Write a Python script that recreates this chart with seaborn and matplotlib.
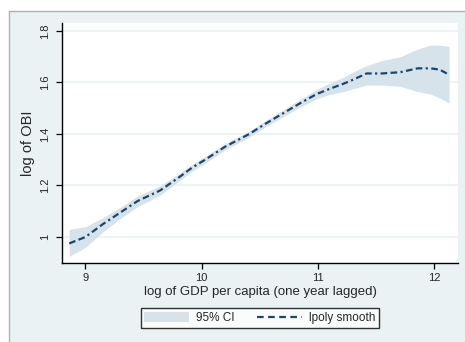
import matplotlib
matplotlib.use("Agg")
import matplotlib.pyplot as plt
import seaborn as sns
import pandas as pd
from matplotlib.patches import Patch, Rectangle
from matplotlib.lines import Line2D

gdp = [8.86, 9.0, 9.15, 9.3, 9.45, 9.64, 9.8, 9.92, 10.03, 10.2, 10.41, 10.55,
       10.7, 10.85, 10.99, 11.1, 11.22, 11.3, 11.42, 11.55, 11.71, 11.86, 11.97,
       12.05, 12.13]
obi = [0.975, 1.0, 1.05, 1.095, 1.14, 1.18, 1.23, 1.27, 1.30, 1.35, 1.40, 1.44,
       1.48, 1.52, 1.555, 1.575, 1.595, 1.61, 1.635, 1.635, 1.64, 1.655, 1.655,
       1.65, 1.63]
ci_hi = [1.030, 1.040, 1.075, 1.115, 1.160, 1.198, 1.245, 1.283, 1.313, 1.362,
         1.412, 1.452, 1.493, 1.535, 1.573, 1.597, 1.620, 1.640, 1.665, 1.685,
         1.700, 1.730, 1.745, 1.745, 1.740]
ci_lo = [0.925, 0.960, 1.020, 1.072, 1.118, 1.162, 1.215, 1.257, 1.287, 1.338,
         1.388, 1.428, 1.467, 1.505, 1.537, 1.553, 1.565, 1.575, 1.590, 1.590,
         1.585, 1.565, 1.555, 1.540, 1.520]
xticks = [9, 10, 11, 12]
yticks = [1.0, 1.2, 1.4, 1.6, 1.8]
ytick_labels = ["1", "1.2", "1.4", "1.6", "1.8"]

sns.set_style("white")
plt.rcParams['font.family'] = ['Liberation Sans', 'DejaVu Sans']

BG = "#EAF2F3"
NAVY = "#1A476F"
CIFILL = "#D6E3EA"
DASH = (3, 1.5, 3, 1.5, 1, 1.5)

fig = plt.figure(figsize=(4.65, 3.42), dpi=100)
fig.patch.set_facecolor("white")
W, H = 465, 342
fig.patches.append(Rectangle((9 / W, 0), 1 - 9 / W, 1 - 11 / H, transform=fig.transFigure,
                             facecolor=BG, edgecolor="none", zorder=-10))
fig.add_artist(Line2D([9 / W, 1], [1 - 11 / H, 1 - 11 / H], transform=fig.transFigure,
                      color="#B0B0B0", lw=1))
fig.add_artist(Line2D([9 / W, 9 / W], [0, 1 - 11 / H], transform=fig.transFigure,
                      color="#B0B0B0", lw=1))

ax = fig.add_axes([62 / W, 1 - 263 / H, (458 - 62) / W, (263 - 23) / H])
ax.set_facecolor("white")

df = pd.DataFrame({"gdp": gdp, "obi": obi, "lo": ci_lo, "hi": ci_hi})
ax.fill_between(df["gdp"], df["lo"], df["hi"], color=CIFILL, lw=0, zorder=2)
sns.lineplot(data=df, x="gdp", y="obi", ax=ax, color=NAVY, lw=1.6, zorder=3,
             dashes=False)
ax.lines[-1].set_dashes(DASH)

ax.set_xlim(8.798, 12.207)
ax.set_ylim(0.899, 1.831)
ax.set_xticks(xticks)
ax.set_xticklabels([str(t) for t in xticks], fontsize=8)
ax.set_yticks(yticks)
ax.set_yticklabels(ytick_labels, fontsize=8, rotation=90, va="center")
ax.grid(axis="y", color=BG, lw=1.2, zorder=0)
ax.set_axisbelow(True)
ax.tick_params(axis="both", direction="out", length=4.5, width=0.9, color="black",
               bottom=True, left=True)
ax.tick_params(axis="x", pad=2.5)
ax.tick_params(axis="y", pad=4)
for s in ["top", "right"]:
    ax.spines[s].set_visible(False)
for s in ["left", "bottom"]:
    ax.spines[s].set_color("black")
    ax.spines[s].set_linewidth(1.0)

ax.set_xlabel("log of GDP per capita (one year lagged)", fontsize=9.5, labelpad=2)
ax.set_ylabel("log of OBI", fontsize=10.5, labelpad=4)

handles = [Patch(facecolor=CIFILL, edgecolor="none"),
           Line2D([0], [0], color=NAVY, lw=1.6, dashes=(3, 2, 3, 2, 3, 2, 3, 2, 1, 1.5, 1, 1.5))]
leg = fig.legend(handles, ["95% CI", "lpoly smooth"], loc="center",
                 bbox_to_anchor=(260 / W, 1 - 318 / H), ncol=2, fontsize=8.5,
                 frameon=True, fancybox=False, handlelength=3.8, handleheight=1.0,
                 columnspacing=1.9, handletextpad=0.6, borderpad=0.3)
leg.get_frame().set_edgecolor("black")
leg.get_frame().set_linewidth(1.0)
leg.get_frame().set_facecolor("white")

fig.savefig("out.png", dpi=100)
